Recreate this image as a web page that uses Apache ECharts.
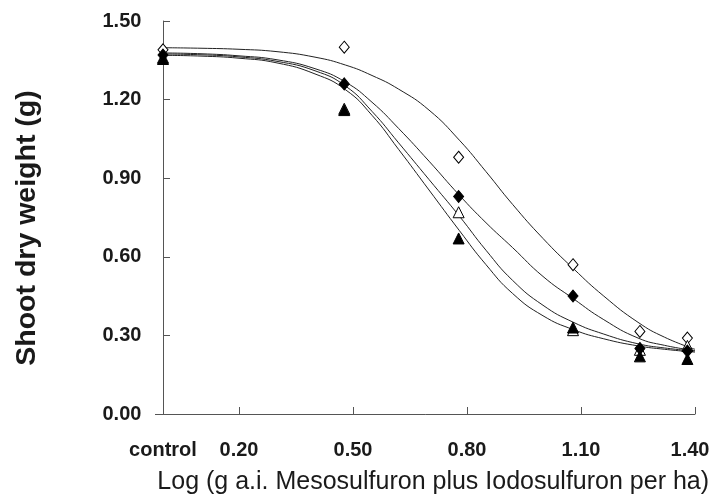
<!DOCTYPE html>
<html>
<head>
<meta charset="utf-8">
<script src="https://cdn.jsdelivr.net/npm/echarts@6/dist/echarts.min.js"></script>
<style>
html,body{margin:0;padding:0;background:#fff;}
#chart{width:711px;height:502px;}
</style>
</head>
<body>
<div id="chart"></div>
<script>
// Dose positions (log scale, control = 0)
var doseX = [0, 0.477, 0.778, 1.079, 1.255, 1.380];
// Observed shoot dry weights
var openDiamond   = [1.39, 1.40, 0.98, 0.57, 0.315, 0.29];
var filledDiamond = [1.37, 1.26, 0.83, 0.45, 0.25, 0.24];
var openTriangle  = [1.36, 1.165, 0.77, 0.32, 0.245, 0.26];
var filledTriangle= [1.355, 1.16, 0.67, 0.33, 0.22, 0.21];
// Fitted curves
var curveX = [0, 0.1, 0.2, 0.3, 0.4, 0.48, 0.55, 0.62, 0.70, 0.78, 0.85, 0.92, 1.00, 1.08, 1.16, 1.25, 1.32, 1.40];
var curveA = [1.398, 1.396, 1.392, 1.383, 1.362, 1.332, 1.292, 1.24, 1.16, 1.045, 0.925, 0.80, 0.67, 0.555, 0.45, 0.35, 0.293, 0.247];
var curveB = [1.378, 1.375, 1.367, 1.352, 1.318, 1.267, 1.19, 1.09, 0.965, 0.835, 0.73, 0.635, 0.525, 0.44, 0.36, 0.29, 0.262, 0.242];
var curveC = [1.374, 1.371, 1.363, 1.346, 1.31, 1.252, 1.155, 1.035, 0.895, 0.755, 0.625, 0.51, 0.415, 0.35, 0.305, 0.268, 0.252, 0.240];
var curveD = [1.369, 1.366, 1.358, 1.340, 1.298, 1.238, 1.14, 1.01, 0.855, 0.70, 0.57, 0.46, 0.375, 0.322, 0.287, 0.26, 0.247, 0.236];
// Axis ticks
var xTickValues = [0.2, 0.5, 0.8, 1.1, 1.4];
var xLabelValues = [0, 0.2, 0.5, 0.8, 1.1, 1.4];
var xTitle = 'Log (g a.i. Mesosulfuron plus Iodosulfuron per ha)';
var yTitle = 'Shoot dry weight (g)';

function pairs(xs, ys){ return xs.map(function(x,i){ return [x, ys[i]]; }); }

var labelFont = "'Liberation Sans',Arial,sans-serif";
var chart = echarts.init(document.getElementById('chart'), null, {renderer:'canvas'});

function curve(data){
  return {type:'line', data: pairs(curveX, data), smooth: 0.5, showSymbol:false, silent:true,
    lineStyle:{color:'#222', width:1}, z:2};
}
function pts(data, sym, filled, size){
  return {type:'scatter', data: pairs(doseX, data), symbol: sym, symbolSize: size,
    itemStyle:{color: filled ? '#000' : '#fff', borderColor:'#000', borderWidth: 1, opacity:1}, z:5};
}

chart.setOption({
  animation:false,
  backgroundColor:'#fff',
  grid:{left:155.4, right:16, top:21, bottom:88, containLabel:false, outerBoundsMode:'none'},
  xAxis:{
    type:'value', min:-0.02, max:1.40,
    axisLine:{show:true, onZero:false, lineStyle:{color:'#555', width:1}},
    axisTick:{show:true, inside:true, length:7, lineStyle:{color:'#555'}, customValues: xTickValues},
    axisLabel:{show:true, margin:26, fontFamily:labelFont, fontWeight:'bold', fontSize:20, color:'#1a1a1a',
      customValues: xLabelValues, hideOverlap:false,
      rich:{last:{fontFamily:labelFont, fontWeight:'bold', fontSize:20, color:'#1a1a1a', padding:[0,10,0,0]}},
      formatter:function(v){
        if (Math.abs(v) < 1e-9) return 'control';
        if (Math.abs(v - 1.4) < 1e-9) return '{last|' + v.toFixed(2) + '}';
        return v.toFixed(2);
      }},
    splitLine:{show:false},
    name: xTitle, nameLocation:'middle', nameGap:56,
    nameTextStyle:{fontFamily:labelFont, fontSize:25, color:'#1a1a1a', padding:[0,0,0,16]}
  },
  yAxis:{
    type:'value', min:0, max:1.5, interval:0.3,
    axisLine:{show:true, lineStyle:{color:'#555', width:1}},
    axisTick:{show:true, inside:true, length:7, lineStyle:{color:'#555'}},
    axisLabel:{margin:14, fontFamily:labelFont, fontWeight:'bold', fontSize:20, color:'#1a1a1a',
      formatter:function(v){ return v.toFixed(2); }},
    splitLine:{show:false},
    name: yTitle, nameLocation:'middle', nameGap:114,
    nameTextStyle:{fontFamily:labelFont, fontWeight:'bold', fontSize:28.5, color:'#1a1a1a', padding:[0,21,0,0]}
  },
  series:[
    curve(curveA), curve(curveB), curve(curveC), curve(curveD),
    pts(openDiamond, 'diamond', false, [10,12]),
    pts(openTriangle, 'triangle', false, [11,11]),
    pts(filledDiamond, 'diamond', true, [10,12]),
    pts(filledTriangle, 'triangle', true, [11,11])
  ]
});
</script>
</body>
</html>
